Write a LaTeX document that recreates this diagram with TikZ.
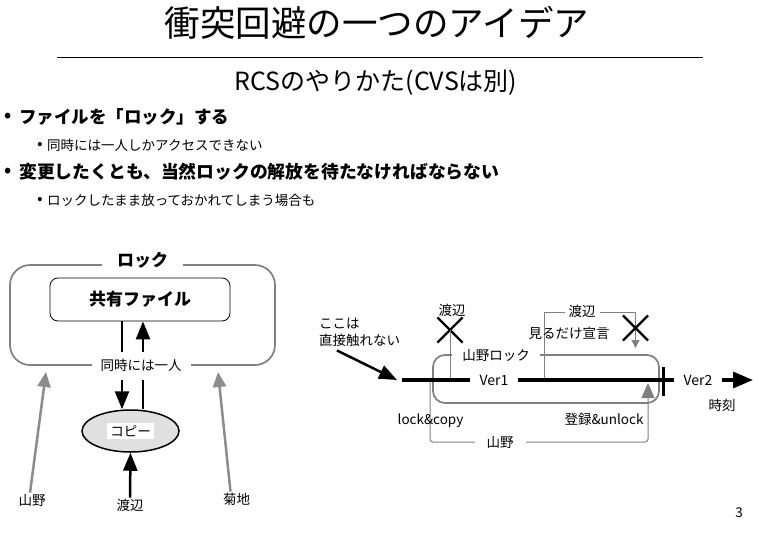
\documentclass[tikz,border=0pt]{standalone}
\usepackage{fontspec}
\setmainfont{Noto Sans CJK JP}
\usetikzlibrary{arrows.meta,shapes.geometric,shapes.misc}
\newcommand{\fsz}[1]{\fontsize{#1}{#1}\selectfont}
\begin{document}
\begin{tikzpicture}[x=1pt,y=-1pt,
  every node/.style={inner sep=1pt},
  t13/.style={font=\fsz{13.5}},
  arr/.style={line width=2.5pt,-{Triangle[length=18pt,width=14pt]}},
  garr/.style={line width=2.5pt,draw=black!45,-{Triangle[length=15pt,width=13pt]}},
  lockbox/.style={draw=black!50,line width=1.7pt,inner sep=0pt},
  brk/.style={draw=black!50,line width=1pt},
  xmark/.style={draw,cross out,line width=2.2pt,minimum size=23pt,inner sep=0pt},
  gap/.style={fill=white}]
\useasboundingbox (0,0) rectangle (758,536);
\fill[white] (0,0) rectangle (758,536);

% title
\node[font=\fsz{35.5}] (title) at (377,23) {衝突回避の一つのアイデア};
\coordinate (rl) at (57,57); \coordinate (rr) at (703,57);
\draw[line width=1pt] (rl) -- (rr);
\node[font=\fsz{25}] (sub) at (376,83) {RCSのやりかた(CVSは別)};

% bullets
\node[font=\bfseries\fsz{18}] (b1d) at (8,117) {•};
\node[anchor=west,font=\bfseries\fsz{17.5}] (b1) at (18,117) {ファイルを「ロック」する};
\node[font=\bfseries\fsz{13}] (s1d) at (40,145) {•};
\node[anchor=west,font=\fsz{13.5}] (s1) at (46,145) {同時には一人しかアクセスできない};
\node[font=\bfseries\fsz{18}] (b2d) at (8,172) {•};
\node[anchor=west,font=\bfseries\fsz{17.8}] (b2) at (18,172) {変更したくとも、当然ロックの解放を待たなければならない};
\node[font=\bfseries\fsz{13}] (s2d) at (40,200) {•};
\node[anchor=west,font=\fsz{13.5}] (s2) at (46,200) {ロックしたまま放っておかれてしまう場合も};

% left diagram
\node[lockbox,minimum width=265pt,minimum height=100pt,rounded corners=20pt] (lockA) at (142.5,315) {};
\node[draw,line width=0.8pt,rounded corners=8pt,minimum width=180pt,minimum height=43pt,font=\bfseries\fsz{17}] (shared) at (140,299.5) {共有ファイル};
\node[ellipse,draw,line width=1.5pt,fill=black!12,minimum width=97pt,minimum height=42pt,inner sep=0pt] (copy) at (130.5,431) {};
\node[t13,fill=white,inner xsep=3pt,inner ysep=2pt] (copyT) at (copy.center) {コピー};
\draw[arr] ([xshift=-18pt]shared.south) -- ([xshift=-8.5pt]copy.north);
\draw[arr] ([xshift=12.5pt]copy.north) -- ([xshift=3pt]shared.south);
\node[t13] (wat1) at (130,505) {渡辺};
\draw[arr] (wat1.north) -- (copy.south);
\node[t13] (yam1) at (32,500) {山野};
\node[t13] (kik) at (236.5,499) {菊地};
\coordinate (yamTip) at (46,372);
\coordinate (kikTip) at (218,372);
\draw[garr] ([xshift=-2pt]yam1.north) -- (yamTip);
\draw[garr] ([xshift=-6pt]kik.north) -- (kikTip);
\node[gap,font=\bfseries\fsz{17},inner xsep=15pt,inner ysep=3pt] (lockL) at ([yshift=4pt]lockA.north) {ロック};
\node[gap,t13,inner xsep=9pt,inner ysep=8pt] (oneL) at ([xshift=-1.5pt]lockA.south) {同時には一人};

% right diagram
\node[lockbox,minimum width=226pt,minimum height=48pt,rounded corners=12pt] (ylock) at (546,379) {};
\coordinate (t0) at (402,380); \coordinate (t1) at (753,380);
\node[xmark] (xw) at (450,330) {};
\node[t13] (w2) at (452,310) {渡辺};
\draw[brk] (xw.center) -- (xw.center |- t0);
\coordinate (wb0) at (544,380); \coordinate (wb1) at (544,312);
\coordinate (wb2) at (635.5,312); \coordinate (wbTip) at (635.5,348);
\draw[brk,-{Triangle[length=8pt,width=8pt]}] (wb0) -- (wb1) -- (wb2) -- (wbTip);
\node[xmark] (xw2) at (635.5,328) {};
\node[gap,t13,inner xsep=4pt] (w3) at (582,311) {渡辺};
\node[t13] (mi) at (569,333) {見るだけ宣言};
\coordinate (yb0) at (430,380); \coordinate (yb1) at (430,442);
\coordinate (yb2) at (648,442); \coordinate (ybTip) at (648,383);
\draw[brk,rounded corners=3pt,-{Triangle[length=15pt,width=13pt]}] (yb0) -- (yb1) -- (yb2) -- (ybTip);
\node[gap,t13,inner xsep=12pt] (yL) at (500,442) {山野};
\node[t13] (lc) at (430.5,421) {lock\&copy};
\node[t13] (ru) at (604,419.5) {登録\&unlock};
\draw[line width=3.2pt,-{Triangle[length=20pt,width=16pt]}] (t0) -- (t1);
\node[gap,font=\fsz{14},inner xsep=10pt] (v1) at (494,380) {Ver1};
\node[gap,font=\fsz{14},inner xsep=10pt] (v2) at (698,380) {Ver2};
\coordinate (tk1) at (663,367); \coordinate (tk2) at (663,396);
\draw[line width=3pt] (tk1) -- (tk2);
\node[gap,t13,inner xsep=10pt] (ylL) at (496,355) {山野ロック};
\node[t13,align=left,anchor=west,font=\fontsize{13.5}{17}\selectfont] (note) at (318,332) {ここは\\直接触れない};
\coordinate (noteTip) at (397,380);
\draw[arr] ([xshift=19pt,yshift=-3pt]note.south west) -- (noteTip);
\node[t13] (jk) at (722,405) {時刻};
\node[t13] (pg) at (739,513) {3};
\end{tikzpicture}
\end{document}
